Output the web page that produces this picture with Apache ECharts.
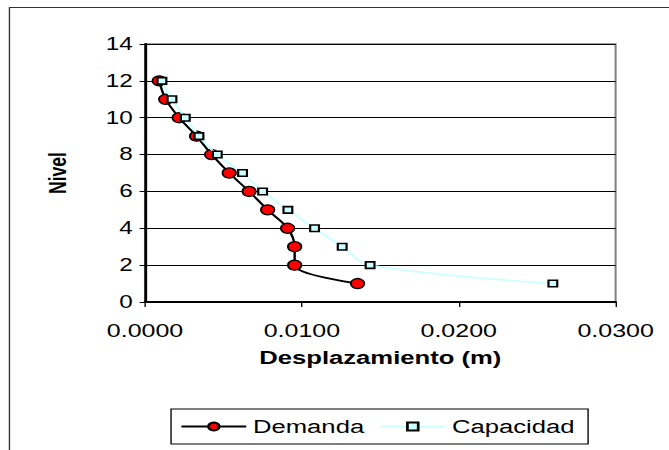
<!DOCTYPE html>
<html>
<head>
<meta charset="utf-8">
<script src="https://cdn.jsdelivr.net/npm/echarts@6/dist/echarts.min.js"></script>
<style>
html,body{margin:0;padding:0;background:#fff;overflow:hidden;}
/* the figure is laid out narrow and widened horizontally, giving its wide lettering */
#chart{width:495.56px;height:450px;transform:scaleX(1.35);transform-origin:0 0;}
</style>
</head>
<body>
<div id="chart"></div>
<script>
// Storey levels and lateral displacements (m)
const niveles = [12, 11, 10, 9, 8, 7, 6, 5, 4, 3, 2, 1];
const demanda = [0.00091, 0.00132, 0.00218, 0.00329, 0.00425, 0.00537, 0.00664, 0.00782, 0.00909, 0.00954, 0.00954, 0.01355];
const capacidad = [0.00108, 0.00172, 0.00257, 0.00344, 0.00461, 0.00622, 0.00750, 0.00911, 0.01081, 0.01257, 0.01435, 0.02600];
const seriesNames = ['Demanda', 'Capacidad'];

const pairs = (xs) => xs.map((x, i) => [x, niveles[i]]);
const font = 'Liberation Sans, Arial, sans-serif';

const chart = echarts.init(document.getElementById('chart'), null, {renderer: 'svg'});
chart.setOption({
  animation: false,
  backgroundColor: '#fff',
  graphic: [{
    type: 'rect',
    shape: {x: 7, y: 7.5, width: 600, height: 500},
    style: {fill: 'none', stroke: '#333', lineWidth: 1},
    silent: true, z: -1
  }],
  grid: {left: 107.4, right: 40, top: 44, bottom: 148, show: true, borderColor: '#808080', borderWidth: 1.5, backgroundColor: 'transparent'},
  xAxis: {
    type: 'value', min: 0, max: 0.03, interval: 0.01,
    axisLine: {show: true, onZero: false, lineStyle: {color: '#000', width: 2}},
    axisTick: {show: true, length: 5, lineStyle: {color: '#000'}},
    splitLine: {show: false},
    axisLabel: {color: '#000', fontFamily: font, fontSize: 18.5, margin: 19, formatter: v => v.toFixed(4)},
    name: 'Desplazamiento (m)', nameLocation: 'middle', nameGap: 46,
    nameTextStyle: {color: '#000', fontFamily: font, fontSize: 19, fontWeight: 'bold'}
  },
  yAxis: {
    type: 'value', min: 0, max: 14, interval: 2,
    axisLine: {show: true, lineStyle: {color: '#000', width: 2}},
    axisTick: {show: true, length: 4, lineStyle: {color: '#000'}},
    splitLine: {show: true, lineStyle: {color: '#000', width: 1}},
    axisLabel: {color: '#000', fontFamily: font, fontSize: 18, margin: 9},
    name: 'Nivel', nameLocation: 'middle', nameGap: 56, nameRotate: 90,
    nameTextStyle: {color: '#000', fontFamily: font, fontSize: 17.5, fontWeight: 'bold'}
  },
  legend: {
    data: seriesNames,
    left: 126.7, top: 409,
    padding: [8, 10, 8, 6.7],
    borderColor: '#000', borderWidth: 1,
    itemWidth: 48, itemHeight: 10, itemGap: 11,
    textStyle: {color: '#000', fontFamily: font, fontSize: 19}
  },
  series: [
    {
      name: 'Demanda', type: 'line', smooth: 0.35,
      data: pairs(demanda),
      lineStyle: {color: '#000', width: 1.8},
      symbol: 'circle', symbolSize: 10,
      itemStyle: {color: '#ff0000', borderColor: '#000', borderWidth: 1.3},
      z: 2
    },
    {
      name: 'Capacidad', type: 'line', smooth: 0.35,
      data: pairs(capacidad),
      lineStyle: {color: '#ccffff', width: 1.8},
      symbol: 'rect', symbolSize: 6.5,
      itemStyle: {color: '#ccffff', borderColor: '#000', borderWidth: 1.6},
      z: 3
    }
  ]
});
</script>
</body>
</html>
